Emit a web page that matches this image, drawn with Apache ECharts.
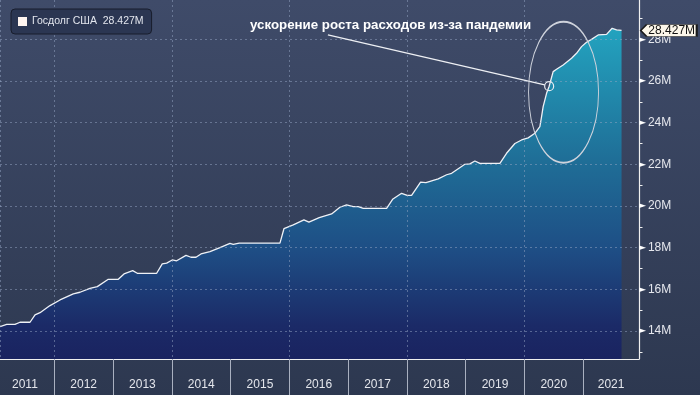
<!DOCTYPE html>
<html><head><meta charset="utf-8">
<script src="https://cdn.jsdelivr.net/npm/echarts@6/dist/echarts.min.js"></script>
<style>html,body{margin:0;padding:0;background:#2d3850;}#c{width:700px;height:395px;}</style>
</head><body><div id="c"></div>
<script>
// ---- data ----
const seriesName = 'Госдолг США';
const yearLabels = [2011, 2012, 2013, 2014, 2015, 2016, 2017, 2018, 2019, 2020, 2021];
const valueLabels = [14, 16, 18, 20, 22, 24, 26, 28];
const minorTicks = [13, 14, 15, 16, 17, 18, 19, 20, 21, 22, 23, 24, 25, 26, 27, 28, 29];
// decimal year
const dates = [2011.076, 2011.19, 2011.331, 2011.416, 2011.587, 2011.672, 2011.757, 2011.927,
  2012.097, 2012.323, 2012.437, 2012.607, 2012.732, 2012.919, 2013.089, 2013.186, 2013.334,
  2013.412, 2013.742, 2013.837, 2013.912, 2014.007, 2014.082, 2014.241, 2014.326, 2014.411,
  2014.496, 2014.649, 2014.819, 2014.989, 2015.045, 2015.147, 2015.840, 2015.908, 2016.066,
  2016.248, 2016.333, 2016.508, 2016.719, 2016.860, 2016.974, 2017.087, 2017.172, 2017.257,
  2017.655, 2017.757, 2017.910, 2018.005, 2018.080, 2018.233, 2018.324, 2018.533, 2018.676,
  2018.761, 2018.987, 2019.072, 2019.157, 2019.242, 2019.583, 2019.696, 2019.838, 2019.952,
  2020.064, 2020.178, 2020.263, 2020.292, 2020.319, 2020.377, 2020.421, 2020.489, 2020.547,
  2020.659, 2020.802, 2020.887, 2020.972, 2021.057, 2021.142, 2021.255, 2021.398, 2021.493,
  2021.568, 2021.653];
// trillions USD
const debt = [14.21, 14.32, 14.32, 14.42, 14.42, 14.77, 14.88, 15.22,
  15.49, 15.78, 15.86, 16.05, 16.13, 16.48, 16.48, 16.74, 16.90,
  16.77, 16.77, 17.22, 17.26, 17.41, 17.37, 17.63, 17.54, 17.54,
  17.70, 17.81, 18.00, 18.21, 18.16, 18.22, 18.22, 18.91, 19.09,
  19.33, 19.23, 19.44, 19.62, 19.94, 20.05, 19.97, 19.97, 19.89,
  19.89, 20.32, 20.61, 20.51, 20.51, 21.15, 21.12, 21.30, 21.50,
  21.57, 22.00, 22.02, 22.16, 22.05, 22.05, 22.53, 23.00, 23.17,
  23.27, 23.49, 23.81, 24.29, 24.77, 25.41, 25.75, 26.45, 26.56,
  26.77, 27.09, 27.33, 27.65, 27.86, 28.00, 28.21, 28.24, 28.53,
  28.45, 28.427];
const annotText = 'ускорение роста расходов из-за пандемии';
const annotIndex = 68;                  // highlighted point
const leaderStart = [2016.656, 28.21];  // start of pointer line (data coords)
const leaderEnd = [2020.346, 25.81];
const ellipseCenter = [2020.666, 25.46];

const X_MIN = 2011.076, X_MAX = 2021.95;
const Y_MIN = 12.656, Y_MAX = 29.888;

const lastVal = debt[debt.length - 1].toFixed(3);
const FONT = 'Liberation Sans';
const splitStyle = { color: 'rgba(150,165,195,0.5)', width: 1, type: [2, 3] };

const chart = echarts.init(document.getElementById('c'), null, { renderer: 'canvas' });
chart.setOption({
  animation: false,
  backgroundColor: { type: 'linear', x: 0, y: 0, x2: 0, y2: 1,
    colorStops: [{ offset: 0, color: '#3f4b69' }, { offset: 1, color: '#2d3850' }] },
  textStyle: { fontFamily: FONT },
  title: {
    text: annotText, left: 250, top: 19, padding: 0,
    textStyle: { color: '#ffffff', fontSize: 13.3, fontWeight: 'bold', fontFamily: FONT }
  },
  legend: {
    left: 11, top: 9, padding: [7, 8, 7, 7],
    backgroundColor: '#2b3652', borderColor: '#181d2c', borderWidth: 1, borderRadius: 4,
    icon: 'rect', itemWidth: 9, itemHeight: 9, itemGap: 5, selectedMode: false,
    itemStyle: { color: '#fff5f0' },
    textStyle: { color: '#e3e6ee', fontSize: 10.5, fontFamily: FONT },
    formatter: n => n + '  ' + lastVal + 'M',
    data: [seriesName]
  },
  grid: { left: 0, right: 61, top: 0, bottom: 36, containLabel: false },
  xAxis: [{
    type: 'value', min: X_MIN, max: X_MAX, position: 'bottom', z: 4,
    axisLine: { show: true, onZero: false, lineStyle: { color: '#f0f0f0', width: 1.2 } },
    axisTick: { show: true, customValues: yearLabels.slice(1), length: 40, inside: false,
      lineStyle: { color: '#a9b0c0', width: 1 } },
    axisLabel: {
      customValues: yearLabels.map(y => (y + Math.min(y + 1, X_MAX)) / 2),
      formatter: v => String(Math.floor(v)), margin: 20,
      color: '#e4e6ec', fontSize: 12, fontFamily: FONT
    },
    splitLine: { show: false }
  }, {
    type: 'value', min: X_MIN, max: X_MAX, position: 'top', z: 3, splitNumber: 5,
    axisLine: { show: false }, axisTick: { show: false },
    axisLabel: { show: false },
    splitLine: { show: true, lineStyle: splitStyle }
  }],
  yAxis: [{
    type: 'value', min: Y_MIN, max: Y_MAX, position: 'right', z: 4,
    axisLine: { show: true, onZero: false, lineStyle: { color: '#f0f0f0', width: 1.2 } },
    axisTick: { show: true, customValues: minorTicks, length: 3.5, inside: false,
      lineStyle: { color: '#f0f0f0', width: 1 } },
    axisLabel: {
      customValues: valueLabels, margin: 0,
      formatter: v => '{t|►}{v|' + v + 'M}',
      rich: {
        t: { color: '#ffffff', fontSize: 9, fontFamily: 'DejaVu Sans', padding: [0, 2, 0, 0] },
        v: { color: '#e6e8ee', fontSize: 12, fontFamily: FONT }
      }
    },
    splitLine: { show: false }
  }, {
    type: 'value', min: Y_MIN, max: Y_MAX, position: 'left', z: 3,
    axisLine: { show: false }, axisTick: { show: false, customValues: valueLabels },
    axisLabel: { show: false, customValues: valueLabels },
    splitLine: { show: true, lineStyle: splitStyle }
  }],
  series: [{
    name: seriesName, type: 'line', xAxisIndex: 0, yAxisIndex: 0,
    data: dates.map((d, i) => [d, debt[i]]),
    showSymbol: false, symbol: 'none', z: 2,
    itemStyle: { color: '#fff5f0' },
    lineStyle: { color: '#eef1f6', width: 1.3 },
    areaStyle: {
      origin: 'start', opacity: 1,
      color: { type: 'linear', x: 0, y: 0, x2: 0, y2: 1, colorStops: [
        { offset: 0, color: '#23a3bf' },
        { offset: 0.4, color: '#1f6e97' },
        { offset: 0.67, color: '#1e4e85' },
        { offset: 0.9, color: '#1b2a67' },
        { offset: 1, color: '#1a2360' }] }
    },
    markLine: {
      silent: true, symbol: ['none', 'none'], animation: false,
      label: { show: false },
      lineStyle: { color: '#eef0f4', width: 1.2, type: 'solid' },
      data: [[{ coord: leaderStart }, { coord: leaderEnd }]]
    },
    markPoint: {
      silent: true, animation: false,
      data: [
        { coord: [dates[annotIndex], debt[annotIndex]], symbol: 'circle', symbolSize: 9,
          itemStyle: { color: 'rgba(0,0,0,0)', borderColor: '#e8ecf2', borderWidth: 1.2 },
          label: { show: false } },
        { coord: ellipseCenter, symbolSize: [70, 141],
          symbol: 'path://M0,50 C0,22.4 22.4,0 50,0 C77.6,0 100,22.4 100,50 C100,77.6 77.6,100 50,100 C22.4,100 0,77.6 0,50 Z',
          itemStyle: { color: 'rgba(0,0,0,0)', borderColor: '#cfd3dc', borderWidth: 1.3 },
          label: { show: false } },
        { coord: [X_MAX, debt[debt.length - 1]], symbolSize: [56, 12], symbolOffset: [29.7, 0],
          symbol: 'path://M0,6 L6,0 L56,0 L56,12 L6,12 Z',
          itemStyle: { color: '#fdf7ea', borderColor: '#1a1a1a', borderWidth: 1 },
          label: { show: true, position: 'inside', offset: [3, 0], color: '#111111',
            fontSize: 12, fontFamily: FONT, formatter: lastVal + 'M' } }
      ]
    }
  }]
});
</script>
</body></html>
